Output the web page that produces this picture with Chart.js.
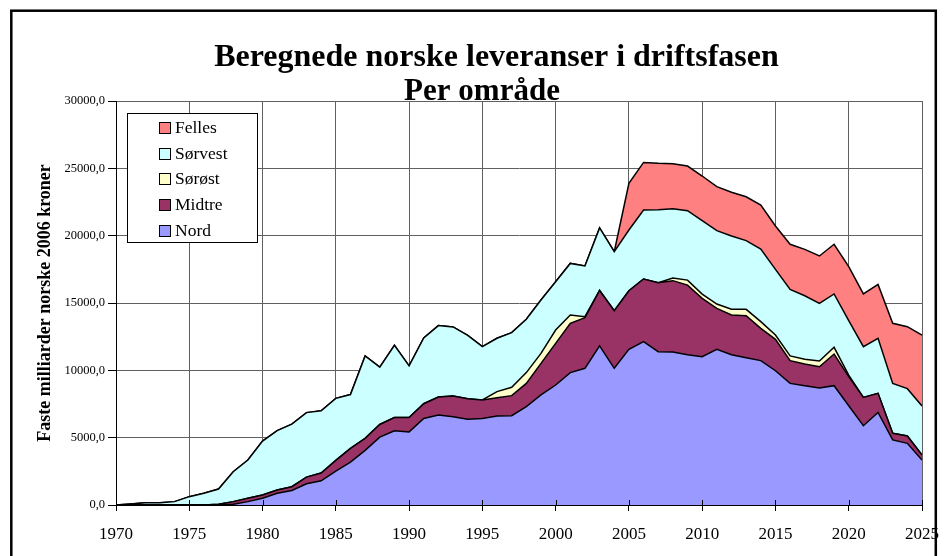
<!DOCTYPE html>
<html><head><meta charset="utf-8">
<script src="https://cdn.jsdelivr.net/npm/chart.js@4"></script>
<style>html,body{margin:0;padding:0;background:#fff;overflow:hidden}#wrap{width:944px;height:556px;position:relative}canvas{display:block}</style>
</head><body><div id="wrap"><canvas id="c" width="944" height="556"></canvas></div>
<script>
const years = [1970,1971,1972,1973,1974,1975,1976,1977,1978,1979,
  1980,1981,1982,1983,1984,1985,1986,1987,1988,1989,
  1990,1991,1992,1993,1994,1995,1996,1997,1998,1999,
  2000,2001,2002,2003,2004,2005,2006,2007,2008,2009,
  2010,2011,2012,2013,2014,2015,2016,2017,2018,2019,
  2020,2021,2022,2023,2024,2025];
const nord = [0,0,0,0,0,0,0,0,50,250,
  500,870,1080,1580,1800,2520,3180,4060,5040,5510,
  5430,6430,6690,6560,6360,6430,6610,6630,7300,8170,
  8910,9830,10150,11820,10150,11560,12130,11385,11360,11160,
  11010,11560,11160,10940,10720,9970,9030,8860,8690,8860,
  7375,5890,6880,4830,4580,3340];
const midtre = [0,0,0,0,0,0,0,50,200,250,
  240,240,280,490,580,790,1020,890,940,990,
  1070,1090,1330,1530,1530,1370,1360,1490,1730,2350,
  3090,3660,3760,4110,4280,4350,4650,5125,5300,5170,
  4335,3040,2950,3120,2400,2330,1690,1610,1580,2350,
  2155,2100,1410,490,540,370];
const soroest = [0,0,0,0,0,0,0,0,0,0,
  0,0,0,0,0,0,0,0,0,0,
  0,0,0,0,0,0,450,620,800,740,
  990,620,70,0,0,0,0,0,200,370,
  320,320,420,470,500,320,350,350,420,500,
  120,0,0,0,0,0];
const sorvest = [0,75,170,170,250,620,870,1140,2225,2840,
  4010,4410,4640,4790,4620,4610,4000,6120,4260,5350,
  3830,4890,5300,5130,4710,3960,3960,4060,3960,3960,
  3590,3830,3770,4650,4380,4510,5120,5420,5140,5150,
  5445,5450,5440,5100,5380,4880,4940,4720,4280,3960,
  4040,3770,4090,3710,3520,3640];
const felles = [0,0,0,0,0,0,0,0,0,0,
  0,0,0,0,0,0,0,0,0,0,
  0,0,0,0,0,0,0,0,0,0,
  0,0,0,0,0,3460,3540,3440,3340,3320,
  3320,3270,3250,3260,3270,3220,3350,3440,3520,3690,
  4010,3910,4000,4460,4600,5270];
const seriesNames = ['Nord','Midtre','Sørøst','Sørvest','Felles'];
const seriesColors = ['#9999FF','#993366','#FFFFCC','#CCFFFF','#FF8080'];
const seriesValues = [nord, midtre, soroest, sorvest, felles];
const yTicks = [0,5000,10000,15000,20000,25000,30000];
const titleLines = ['Beregnede norske leveranser i driftsfasen','Per område'];
const yTitle = 'Faste milliarder norske 2006 kroner';

const SERIF = '"Liberation Serif","Times New Roman",serif';

const datasets = seriesValues.map((vals, k) => ({
  label: seriesNames[k],
  data: years.map((yr, i) => ({x: yr, y: vals[i]})),
  backgroundColor: seriesColors[k],
  borderColor: '#000',
  borderWidth: 1.5,
  pointRadius: 0,
  tension: 0,
  fill: k === 0 ? 'origin' : '-1'
}));

const deco = {
  id: 'deco',
  beforeDraw(chart) {
    const c = chart.ctx;
    c.save(); c.fillStyle = '#fff'; c.fillRect(0, 0, chart.width, chart.height); c.restore();
  },
  afterDatasetsDraw(chart) {
    const c = chart.ctx, a = chart.chartArea, x = chart.scales.x;
    c.save();
    c.strokeStyle = '#000'; c.lineWidth = 1;
    c.beginPath();
    c.moveTo(a.left, Math.round(a.bottom) + 0.5); c.lineTo(a.right, Math.round(a.bottom) + 0.5);
    x.ticks.forEach(t => {
      const px = Math.round(x.getPixelForValue(t.value)) + 0.5;
      c.moveTo(px, a.bottom - 5); c.lineTo(px, a.bottom);
    });
    c.stroke();
    c.restore();
  },
  afterDraw(chart) {
    const c = chart.ctx;
    c.save();
    // outer frame
    c.strokeStyle = '#000'; c.lineWidth = 2.5;
    c.strokeRect(11.3, 10.7, 924.5, 600);
    // titles
    c.fillStyle = '#000';
    c.textAlign = 'center'; c.textBaseline = 'alphabetic';
    c.font = 'bold 32px ' + SERIF;
    c.fillText(titleLines[0], 496.5, 66);
    c.font = 'bold 31px ' + SERIF;
    c.fillText(titleLines[1], 482, 100);
    // y title
    c.save();
    c.translate(45, 303); c.rotate(-Math.PI / 2);
    c.font = 'bold 18px ' + SERIF; c.textBaseline = 'middle';
    c.fillText(yTitle, 0, 0);
    c.restore();
    // legend
    const bx = 127.5, by = 113.5, bw = 130, bh = 129;
    c.fillStyle = '#fff'; c.fillRect(bx, by, bw, bh);
    c.strokeStyle = '#000'; c.lineWidth = 1; c.strokeRect(bx, by, bw, bh);
    c.font = '17.5px ' + SERIF; c.textAlign = 'left'; c.textBaseline = 'middle';
    const ds = chart.data.datasets.slice().reverse();
    ds.forEach((d, i) => {
      const cy = 127.5 + i * 25.7;
      c.fillStyle = d.backgroundColor;
      c.fillRect(159.5, Math.round(cy - 5.5) + 0.5, 11, 11);
      c.strokeStyle = '#000';
      c.strokeRect(159.5, Math.round(cy - 5.5) + 0.5, 11, 11);
      c.fillStyle = '#000';
      c.fillText(d.label, 175, cy + 1);
    });
    c.restore();
  }
};

new Chart(document.getElementById('c'), {
  type: 'line',
  data: { datasets },
  plugins: [deco],
  options: {
    responsive: false,
    animation: false,
    devicePixelRatio: 1,
    layout: { padding: { top: 101, right: 22, left: 0, bottom: 0 } },
    plugins: { legend: { display: false }, title: { display: false }, tooltip: { enabled: false } },
    elements: { line: { borderJoinStyle: 'miter' } },
    scales: {
      x: {
        type: 'linear', min: 1970, max: 2025,
        ticks: { stepSize: 5, callback: v => String(v), font: { family: SERIF, size: 17 }, color: '#000', padding: 13, maxRotation: 0, autoSkip: false },
        grid: { color: '#606060', lineWidth: 1, tickLength: 6, tickColor: '#000' },
        border: { display: true, color: '#000', width: 1 },
        afterFit: s => { s.height = 51; s.paddingLeft = 0; s.paddingRight = 0; }
      },
      y: {
        stacked: true, min: 0, max: 30000,
        afterBuildTicks: s => { s.ticks = yTicks.map(v => ({ value: v })); },
        ticks: { callback: v => v.toFixed(1).replace('.', ','), font: { family: SERIF, size: 12.5 }, color: '#000', padding: 3 },
        grid: { color: '#606060', lineWidth: 1, tickLength: 8, tickColor: '#000' },
        border: { display: true, color: '#000', width: 1 },
        afterFit: s => { s.width = 116; s.paddingTop = 0; s.paddingBottom = 0; }
      }
    }
  }
});
</script>
</body></html>
